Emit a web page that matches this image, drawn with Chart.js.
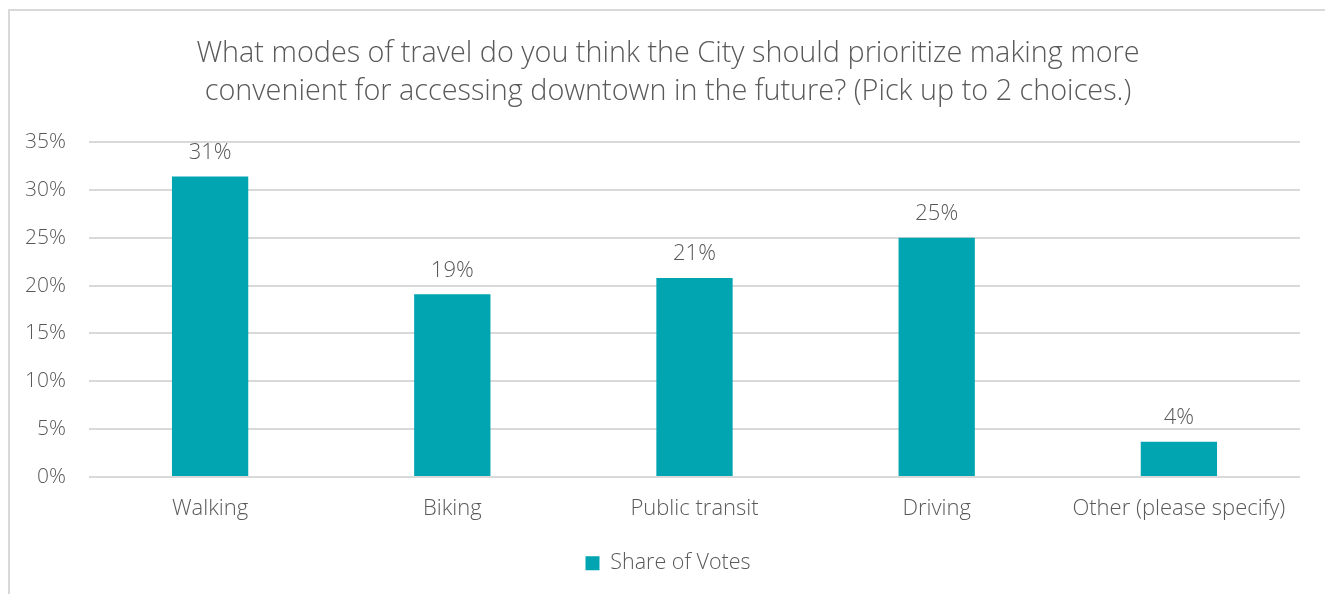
<!DOCTYPE html>
<html>
<head>
<meta charset="utf-8">
<script src="https://cdn.jsdelivr.net/npm/chart.js@4"></script>
<style>
  html, body { margin: 0; padding: 0; background: #fff; overflow: hidden; width: 1325px; height: 594px; }
  #frame { position: absolute; left: 8px; top: 9px; width: 1320px; height: 600px; border: 2px solid #d9d9d9; box-sizing: border-box; }
  #wrap { position: absolute; left: 0; top: 0; width: 1316px; height: 596px; }
</style>
</head>
<body>
<div id="frame"><div id="wrap"><canvas id="c"></canvas></div></div>
<script>
const categories = ["Walking", "Biking", "Public transit", "Driving", "Other (please specify)"];
const shareOfVotes = [31.4, 19.1, 20.8, 25.0, 3.7];
const seriesName = "Share of Votes";
const titleLines = ["What modes of travel do you think the City should prioritize making more",
                    "convenient for accessing downtown in the future? (Pick up to 2 choices.)"];
const yTicks = [0, 5, 10, 15, 20, 25, 30, 35];

const FONT = "'Open Sans', Lato, sans-serif";
const TEXT = "#595959";
const BAR = "#00A5B1";

const dataLabels = {
  id: 'dataLabels',
  afterDatasetsDraw(chart) {
    const ctx = chart.ctx;
    const meta = chart.getDatasetMeta(0);
    ctx.save();
    ctx.font = "300 22px " + FONT;
    ctx.fillStyle = TEXT;
    ctx.textAlign = 'center';
    ctx.textBaseline = 'bottom';
    meta.data.forEach((bar, i) => {
      ctx.fillText(Math.round(shareOfVotes[i]) + '%', bar.x, bar.y - 13);
    });
    ctx.restore();
  }
};

new Chart(document.getElementById('c'), {
  type: 'bar',
  data: {
    labels: categories,
    datasets: [{
      label: seriesName,
      data: shareOfVotes,
      backgroundColor: BAR,
      borderWidth: 0,
      categoryPercentage: 1.0,
      barPercentage: 0.315
    }]
  },
  options: {
    responsive: true,
    maintainAspectRatio: false,
    animation: false,
    layout: { padding: { left: 0, right: 0, top: 14, bottom: 23 } },
    plugins: {
      title: {
        display: true,
        text: titleLines,
        color: TEXT,
        font: { family: FONT, size: 28.8, weight: 300, lineHeight: 1.32 },
        padding: { top: 10, bottom: 31 }
      },
      legend: {
        position: 'bottom',
        labels: {
          color: TEXT,
          font: { family: FONT, size: 21.5, weight: 300 },
          boxWidth: 14, boxHeight: 14,
          padding: 18
        }
      },
      tooltip: { enabled: false }
    },
    scales: {
      x: {
        grid: { display: false },
        border: { display: false },
        afterFit(axis) { axis.height += 3; },
        ticks: { color: TEXT, font: { family: FONT, size: 22, weight: 300 }, padding: 10 }
      },
      y: {
        min: 0, max: 35,
        afterBuildTicks(axis) { axis.ticks = yTicks.map(v => ({ value: v })); },
        afterFit(axis) { axis.width = 79; },
        grid: { color: "#d9d9d9", lineWidth: 2, drawTicks: false },
        border: { display: false },
        ticks: {
          color: TEXT, font: { family: FONT, size: 21, weight: 300 }, padding: 23,
          callback: v => v + '%'
        }
      },
      yRight: {
        position: 'right',
        display: true,
        min: 0, max: 35,
        afterFit(axis) { axis.width = 26; },
        grid: { display: false, drawTicks: false },
        border: { display: false },
        ticks: { display: false }
      }
    }
  },
  plugins: [dataLabels]
});
</script>
</body>
</html>
